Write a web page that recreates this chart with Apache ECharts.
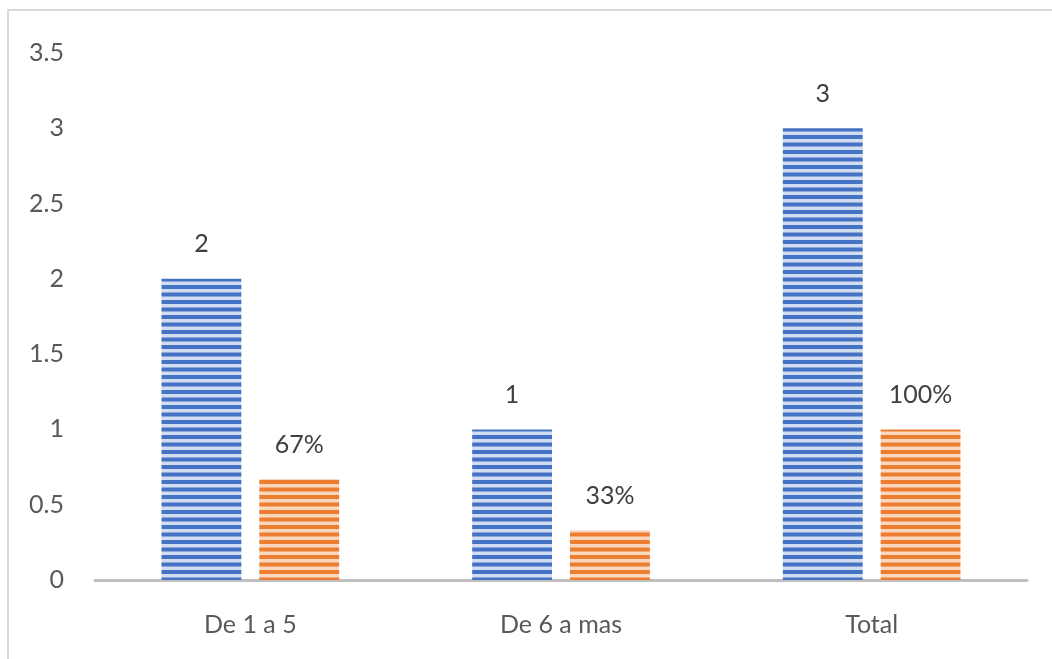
<!DOCTYPE html>
<html><head><meta charset="utf-8">
<script src="https://cdn.jsdelivr.net/npm/echarts@6/dist/echarts.min.js"></script>
<style>html,body{margin:0;padding:0;background:#fff}#c{width:1052px;height:659px}</style>
</head><body><div id="c"></div>
<script>
const categories = ['De 1 a 5', 'De 6 a mas', 'Total'];
const counts = [2, 1, 3];
const shares = [0.67, 0.33, 1.00];
const shareLabels = ['67%', '33%', '100%'];
const yTicks = [0, 0.5, 1, 1.5, 2, 2.5, 3, 3.5];

function stripes(dark, light) {
  const c = document.createElement('canvas');
  c.width = 4; c.height = 15;
  const g = c.getContext('2d');
  g.fillStyle = light; g.fillRect(0, 0, 4, 15);
  g.fillStyle = dark; g.fillRect(0, 0, 4, 4); g.fillRect(0, 7.5, 4, 4);
  return { image: c, repeat: 'repeat' };
}

const chart = echarts.init(document.getElementById('c'));
const font = 'Lato, "Open Sans", sans-serif';
chart.setOption({
  animation: false,
  graphic: [{ type: 'rect', shape: { x: 8, y: 10, width: 1060, height: 670 }, style: { fill: 'none', stroke: '#d9d9d9', lineWidth: 2 }, silent: true }],
  grid: { left: 95, right: 25, top: 53, bottom: 79 },
  xAxis: {
    type: 'category', data: categories,
    axisLine: { lineStyle: { color: '#bfbfbf', width: 3 } },
    axisTick: { show: false },
    axisLabel: { color: '#595959', fontSize: 25, fontFamily: font, margin: 32 }
  },
  yAxis: {
    type: 'value', min: yTicks[0], max: yTicks[yTicks.length - 1], interval: 0.5,
    axisLine: { show: false }, axisTick: { show: false }, splitLine: { show: false },
    axisLabel: { color: '#595959', fontSize: 25, fontFamily: font, margin: 31 }
  },
  series: [
    {
      type: 'bar', data: counts, barWidth: '25.7%', barGap: '22.5%',
      itemStyle: { color: stripes('#4472c4', '#d3ddf1') },
      label: { show: true, position: 'top', distance: 22, color: '#404040', fontSize: 25, fontFamily: font }
    },
    {
      type: 'bar', data: shares, barWidth: '25.7%',
      itemStyle: { color: stripes('#ed7d31', '#fad7bf') },
      label: { show: true, position: 'top', distance: 22, color: '#404040', fontSize: 25, fontFamily: font,
        formatter: p => shareLabels[p.dataIndex] }
    }
  ]
});
</script></body></html>
